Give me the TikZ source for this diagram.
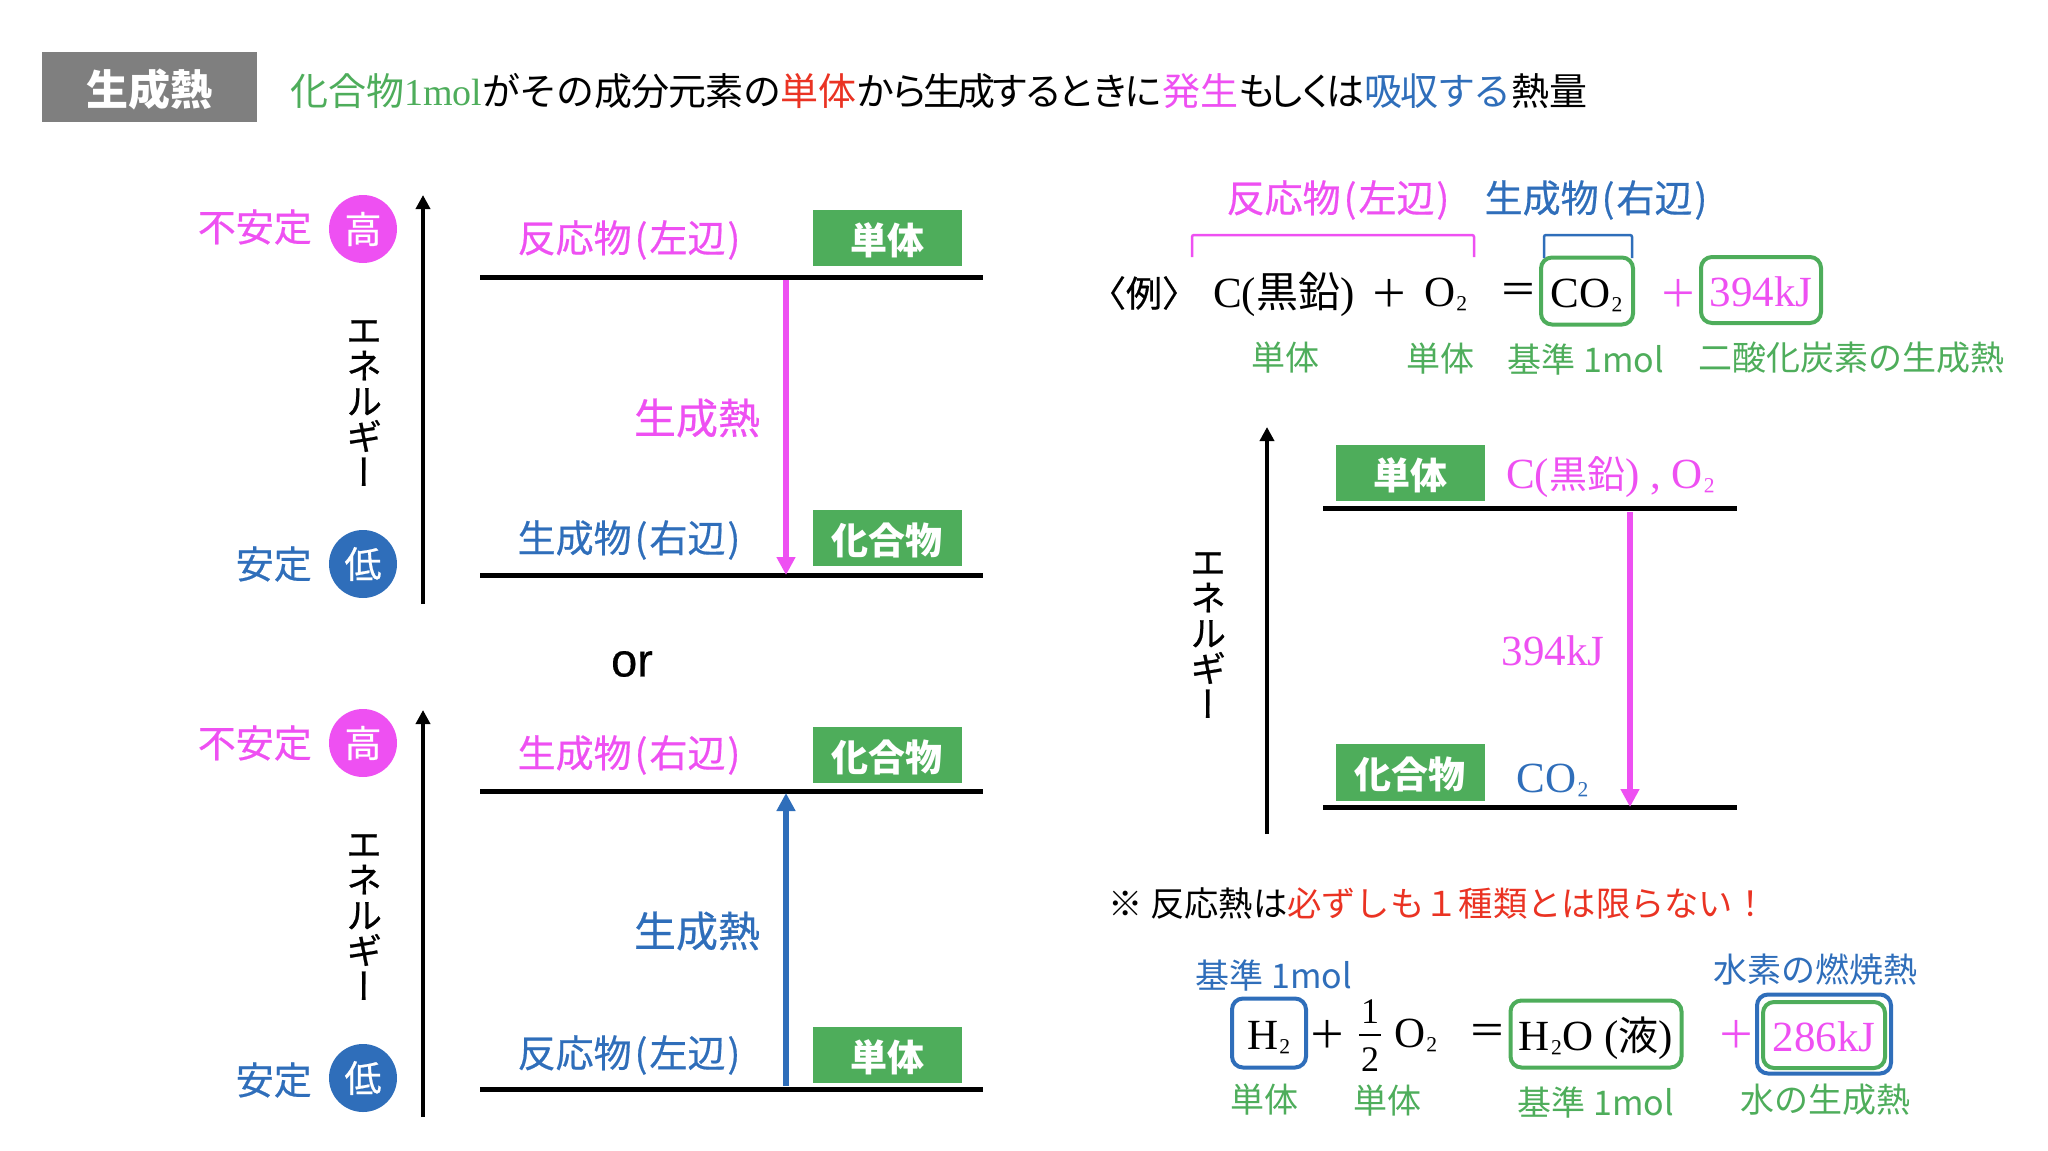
\documentclass[tikz,border=0pt]{standalone}
\usepackage{fontspec}
\setmainfont{Noto Sans CJK JP}
\newfontfamily\ltn{Liberation Serif}
\newfontfamily\ltnsf[FakeBold=0.4]{Liberation Sans}
\newfontfamily\jpmed[FakeBold=0.5]{Noto Sans CJK JP}
\newfontfamily\jpvert[RawFeature=+vert,FakeBold=0.7]{Noto Sans CJK JP}
\usetikzlibrary{arrows.meta}
\definecolor{hotpink}{HTML}{EE50F2}
\definecolor{deepblue}{HTML}{2F6EBA}
\definecolor{leaf}{HTML}{4EAD5B}
\definecolor{alert}{HTML}{EA3323}
\definecolor{slab}{HTML}{7F7F7F}
\newcommand{\fsz}[1]{\fontsize{#1}{#1}\selectfont}
\newcommand{\tight}[2]{{\addfontfeature{LetterSpace=#1}#2}}
\newcommand{\lr}[1]{\kern3pt(\kern2pt#1\kern2pt)}
\newcommand{\subtwo}{{\fsz{36}\raisebox{3pt}{₂}}}
\tikzstyle{txt}=[inner sep=0pt, font=\jpmed\fsz{38}]
\tikzstyle{tag}=[fill=leaf, text=white, font=\fsz{37}\bfseries, minimum width=149pt, minimum height=56pt, inner sep=0pt, text height=34pt, text depth=2pt]
\tikzstyle{badge}=[circle, minimum size=68pt, inner sep=0pt, text=white, font=\jpmed\fsz{37}]
\tikzstyle{eqbox}=[draw, line width=4pt, rounded corners=11pt, inner sep=0pt, text height=33pt, text depth=0pt]
\tikzstyle{under}=[inner sep=0pt, font=\fsz{34}, text=leaf]
\tikzstyle{chem}=[inner sep=0pt, font=\ltn\fsz{43}]
\tikzstyle{op}=[inner sep=0pt, font=\fsz{38}]
\tikzstyle{vtxt}=[inner sep=0pt, align=center, font=\jpvert\fontsize{36}{35.5}\selectfont]
\tikzstyle{lvl}=[line width=5pt]
\tikzstyle{axis}=[line width=4pt, -{Triangle[width=14pt,length=14pt]}]
\tikzstyle{heat}=[line width=6pt, -{Triangle[width=18pt,length=18pt]}]
\begin{document}
\begin{tikzpicture}[x=1pt,y=-1pt]
    \useasboundingbox (0,0) rectangle (2048,1151);
    % title
    \node[fill=slab, text=white, font=\fsz{42}\bfseries, minimum width=215pt, minimum height=70pt, inner sep=0pt, text height=38pt, text depth=2pt] (title) at (149.5,87) {生成熱};
    \node[inner sep=0pt, font=\fsz{38}, anchor=west] (def) at (290,91) {\textcolor{leaf}{化合物{\ltn 1mol}}\tight{-2}{がその成分元素の}\textcolor{alert}{単体}\tight{-12}{から生成するときに}\textcolor{hotpink}{発生}\tight{-23}{もしくは}\textcolor{deepblue}{\tight{-4}{吸収する}}熱量};
    % upper left
    \node[txt, text=hotpink, anchor=east] (u1) at (312,227) {不安定};
    \node[txt, text=deepblue, anchor=east] (s1) at (312,564) {安定};
    \node[badge, fill=hotpink] (hi1) at (363,229) {高};
    \node[badge, fill=deepblue] (lo1) at (363,564) {低};
    \node[vtxt] (en1) at (364,403) {エ\\ネ\\ル\\ギ\\ー};
    \coordinate (ax1a) at (423,604);
    \coordinate (ax1b) at (423,195);
    \coordinate (l1a) at (480,277);
    \coordinate (l1b) at (983,277);
    \coordinate (l2a) at (480,575);
    \coordinate (l2b) at (983,575);
    \node[txt, text=hotpink] (r1) at (629,240) {反応物\lr{左辺}};
    \node[txt, text=deepblue] (p1) at (629,540) {生成物\lr{右辺}};
    \node[tag] (t1) at (887,238) {単体};
    \node[tag] (t2) at (887,538) {化合物};
    \node[txt, text=hotpink, font=\jpmed\fsz{42}] (q1) at (697,418) {生成熱};
    \coordinate (h1a) at (786,280);
    \coordinate (h1b) at (786,575);
    \node[inner sep=0pt, font=\ltnsf\fsz{47}] (or) at (632,664) {or};
    % lower left
    \node[txt, text=hotpink, anchor=east] (u2) at (312,743) {不安定};
    \node[txt, text=deepblue, anchor=east] (s2) at (312,1080) {安定};
    \node[badge, fill=hotpink] (hi2) at (363,743) {高};
    \node[badge, fill=deepblue] (lo2) at (363,1078) {低};
    \node[vtxt] (en2) at (364,917) {エ\\ネ\\ル\\ギ\\ー};
    \coordinate (ax2a) at (423,1117);
    \coordinate (ax2b) at (423,710);
    \coordinate (l3a) at (480,791);
    \coordinate (l3b) at (983,791);
    \coordinate (l4a) at (480,1089);
    \coordinate (l4b) at (983,1089);
    \node[txt, text=hotpink] (p2) at (629,755) {生成物\lr{右辺}};
    \node[txt, text=deepblue] (r2) at (629,1055) {反応物\lr{左辺}};
    \node[tag] (t3) at (887,755) {化合物};
    \node[tag] (t4) at (887,1055) {単体};
    \node[txt, text=deepblue, font=\jpmed\fsz{42}] (q2) at (697,931) {生成熱};
    \coordinate (h2a) at (786,1086);
    \coordinate (h2b) at (786,793);
    % example
    \node[txt, text=hotpink] (r3) at (1338,200) {反応物\lr{左辺}};
    \node[txt, text=deepblue] (p3) at (1596,200) {生成物\lr{右辺}};
    \coordinate (bm1) at (1192,257);
    \coordinate (bm2) at (1192,235);
    \coordinate (bm3) at (1474,235);
    \coordinate (bm4) at (1474,257);
    \coordinate (bb1) at (1544,258);
    \coordinate (bb2) at (1544,235);
    \coordinate (bb3) at (1632,235);
    \coordinate (bb4) at (1632,258);
    \node[txt, font=\jpmed\fsz{36}] (ex) at (1144,293) {〈例〉};
    \node[chem, anchor=west] (cg) at (1213,294) {C({\rmfamily\fsz{42}黒鉛})};
    \node[op] (pl1) at (1389,293) {＋};
    \node[chem] (o1) at (1446,294) {O\subtwo};
    \node[op] (eq1) at (1518,293) {＝};
    \node[eqbox, draw=leaf, minimum width=92pt, minimum height=67pt, font=\ltn\fsz{43}] (co) at (1587,291) {CO\subtwo};
    \node[op, text=hotpink] (pl2) at (1678,293) {＋};
    \node[eqbox, draw=leaf, minimum width=120pt, minimum height=66pt, font=\ltn\fsz{43}, text=hotpink] (k1) at (1761,290) {394kJ};
    \node[under] (m1) at (1285,358) {単体};
    \node[under] (m2) at (1440,359) {単体};
    \node[under] (m3) at (1586,360) {基準 1mol};
    \node[under] (m4) at (1851,358) {二酸化炭素の生成熱};
    % right diagram
    \coordinate (ax3a) at (1267,834);
    \coordinate (ax3b) at (1267,427);
    \node[vtxt] (en3) at (1208,635) {エ\\ネ\\ル\\ギ\\ー};
    \coordinate (l5a) at (1323,508);
    \coordinate (l5b) at (1737,508);
    \coordinate (l6a) at (1323,807);
    \coordinate (l6b) at (1737,807);
    \node[tag] (t5) at (1410,473) {単体};
    \node[tag, minimum height=57pt] (t6) at (1410,772) {化合物};
    \node[chem, text=hotpink, anchor=west] (cg2) at (1506,477) {C({\rmfamily\fsz{38}黒鉛}) , O\subtwo};
    \node[chem, text=deepblue] (co2) at (1553,780) {CO\subtwo};
    \node[chem, text=hotpink] (k2) at (1553,651) {394kJ};
    \coordinate (h3a) at (1630,512);
    \coordinate (h3b) at (1630,807);
    % note
    \node[inner sep=0pt, font=\fsz{34.3}, anchor=west] (nb) at (1108,903) {※ 反応熱は\textcolor{alert}{必ずしも１種類とは限らない！}};
    % hydrogen
    \node[under, text=deepblue] (b1) at (1274,975) {基準 1mol};
    \node[under, text=deepblue] (b2) at (1815,970) {水素の燃焼熱};
    \node[eqbox, draw=deepblue, minimum width=74pt, minimum height=69pt, font=\ltn\fsz{43}] (h2) at (1269,1033) {H\subtwo};
    \node[op] (pl3) at (1327,1034) {＋};
    \node[chem, font=\ltn\fsz{36}] (n1) at (1370,1012) {1};
    \coordinate (fr1) at (1359,1035);
    \coordinate (fr2) at (1381,1035);
    \node[chem, font=\ltn\fsz{36}] (n2) at (1370,1060) {2};
    \node[chem] (o2) at (1416,1035) {O\subtwo};
    \node[op] (eq2) at (1487,1034) {＝};
    \node[eqbox, draw=leaf, minimum width=171pt, minimum height=67pt, font=\ltn\fsz{43}] (wa) at (1596,1034) {H\subtwo O ({\rmfamily\fsz{40}液})};
    \node[op, text=hotpink] (pl4) at (1736,1034) {＋};
    \node[eqbox, draw=deepblue, minimum width=134pt, minimum height=79pt] (k3o) at (1824,1034) {};
    \node[eqbox, draw=leaf, minimum width=122pt, minimum height=66pt, font=\ltn\fsz{43}, text=hotpink] (k3) at (1824,1035) {286kJ};
    \node[under] (m5) at (1264,1100) {単体};
    \node[under] (m6) at (1387,1101) {単体};
    \node[under] (m7) at (1596,1102) {基準 1mol};
    \node[under] (m8) at (1825,1100) {水の生成熱};
    % lines
    \foreach \from/\to in {l1a/l1b, l2a/l2b, l3a/l3b, l4a/l4b, l5a/l5b, l6a/l6b}
    \draw[lvl] (\from) -- (\to);
    \foreach \from/\to in {ax1a/ax1b, ax2a/ax2b, ax3a/ax3b}
    \draw[axis] (\from) -- (\to);
    \draw[heat, hotpink] (h1a) -- (h1b);
    \draw[heat, deepblue] (h2a) -- (h2b);
    \draw[heat, hotpink] (h3a) -- (h3b);
    \draw[line width=2.5pt] (fr1) -- (fr2);
    \draw[hotpink, line width=2.5pt, rounded corners=2pt] (bm1) -- (bm2) -- (bm3) -- (bm4);
    \draw[deepblue, line width=2.5pt, rounded corners=2pt] (bb1) -- (bb2) -- (bb3) -- (bb4);
\end{tikzpicture}
\end{document}
